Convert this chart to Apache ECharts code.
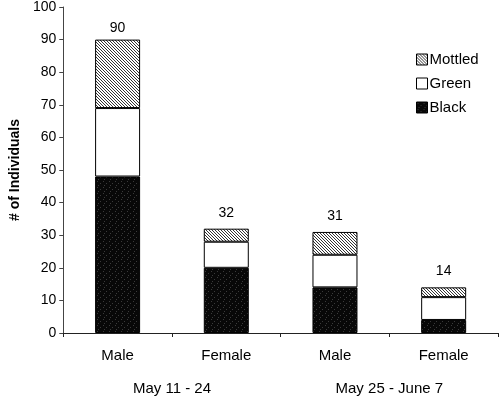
<!DOCTYPE html>
<html>
<head>
<meta charset="utf-8">
<script src="https://cdn.jsdelivr.net/npm/echarts@6/dist/echarts.min.js"></script>
<style>
  html, body { margin: 0; padding: 0; background: #fff; }
  #main { width: 500px; height: 397px; }
</style>
</head>
<body>
<div id="main"></div>
<script>
// data
var sexes = ['Male', 'Female', 'Male', 'Female'];
var periods = ['May 11 - 24', 'May 25 - June 7'];
var black = [48, 20, 14, 4];
var green = [21, 8, 10, 7];
var mottled = [21, 4, 7, 3];

var totals = black.map(function(v, i) {
  return v + green[i] + mottled[i];
});

// 斜线花纹
function hatchPattern() {
  var c = document.createElement('canvas');
  c.width = 3; c.height = 3;
  var ctx = c.getContext('2d');
  ctx.fillStyle = '#fff';
  ctx.fillRect(0, 0, 3, 3);
  ctx.fillStyle = '#333';
  // 对角线像素
  ctx.fillRect(0, 0, 1, 1);
  ctx.fillRect(1, 1, 1, 1);
  ctx.fillRect(2, 2, 1, 1);
  return c;
}

// 黑色带点
function stipplePattern() {
  var c = document.createElement('canvas');
  c.width = 6; c.height = 6;
  var ctx = c.getContext('2d');
  ctx.fillStyle = '#080808';
  ctx.fillRect(0, 0, 6, 6);
  ctx.fillStyle = '#3a3a3a';
  ctx.fillRect(1, 1, 1, 1);
  ctx.fillRect(4, 3, 1, 1);
  ctx.fillRect(2, 5, 1, 1);
  return c;
}

var font = 'Liberation Sans';
var node = document.getElementById('main');
var chart = echarts.init(node, null, { renderer: 'canvas' });

var border = { borderColor: '#000', borderWidth: 1 };

var option = {
  animation: false,
  backgroundColor: '#fff',
  textStyle: { fontFamily: font, color: '#000' },
  grid: { left: 61, right: 2, top: 6, bottom: 64 },
  legend: {
    orient: 'vertical',
    left: 411,
    top: 47,
    icon: 'rect',
    itemWidth: 11,
    itemHeight: 11,
    itemGap: 9,
    itemStyle: { borderColor: '#000', borderWidth: 1 },
    textStyle: { fontFamily: font, fontSize: 15, color: '#000', padding: [0, 0, 0, -3] },
    data: ['Mottled', 'Green', 'Black']
  },
  xAxis: [{
    type: 'category',
    data: sexes,
    axisLine: { lineStyle: { color: '#222', width: 1 } },
    axisTick: { show: true, length: 4, lineStyle: { color: '#222' } },
    axisLabel: { fontFamily: font, fontSize: 15, color: '#000', margin: 15 }
  }, {
    type: 'category',
    data: periods,
    position: 'bottom',
    offset: 34,
    axisLine: { show: false },
    axisTick: { show: false },
    axisLabel: { fontFamily: font, fontSize: 15, color: '#000', margin: 14 }
  }],
  yAxis: {
    type: 'value',
    min: 0,
    max: 100,
    interval: 10,
    name: '# of Individuals',
    nameLocation: 'middle',
    nameGap: 40,
    nameTextStyle: { fontFamily: font, fontSize: 14, fontWeight: 'bold', color: '#000' },
    axisLine: { show: true, lineStyle: { color: '#444', width: 1 } },
    axisTick: { show: true, length: 4, lineStyle: { color: '#444' } },
    axisLabel: { fontFamily: font, fontSize: 14, color: '#000', margin: 7 },
    splitLine: { show: false }
  },
  series: [{
    name: 'Black',
    type: 'bar',
    stack: 'all',
    barWidth: 45,
    itemStyle: Object.assign({ color: { image: stipplePattern(), repeat: 'repeat' } }, border),
    data: black
  }, {
    name: 'Green',
    type: 'bar',
    stack: 'all',
    barWidth: 45,
    itemStyle: Object.assign({ color: '#fff' }, border),
    data: green
  }, {
    name: 'Mottled',
    type: 'bar',
    stack: 'all',
    barWidth: 45,
    itemStyle: Object.assign({ color: { image: hatchPattern(), repeat: 'repeat' } }, border),
    label: {
      show: true,
      position: 'top',
      distance: 9,
      fontFamily: font,
      fontSize: 14,
      color: '#000',
      formatter: function(p) {
        return totals[p.dataIndex];
      }
    },
    // 顶部标签太高时往下压
    labelLayout: function(params) {
      if (params.labelRect.y < 20) {
        return {
          x: params.rect.x + params.rect.width / 2,
          y: 28,
          align: 'center',
          verticalAlign: 'middle'
        };
      }
    },
    data: mottled
  }]
};

chart.setOption(option);
</script>
</body>
</html>
